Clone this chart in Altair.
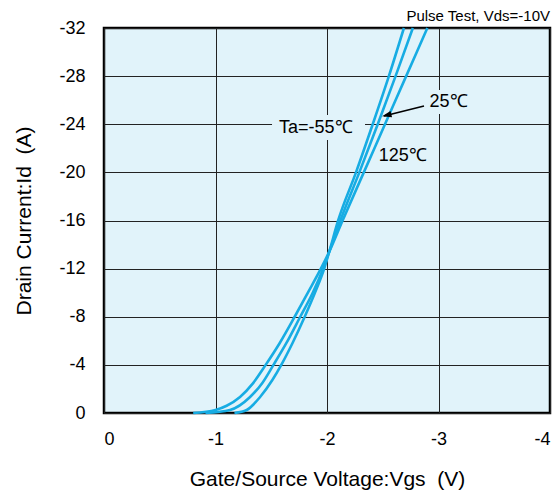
import altair as alt
import pandas as pd

# Transfer characteristics (Vgs in V, Id in A)
vgs_125 = [-0.80, -1.00, -1.10, -1.22, -1.33, -1.45, -1.575, -1.71, -1.825, -1.945, -2.02, -2.14, -2.33, -2.52, -2.71, -2.90]
id_125 = [0.0, -0.25, -0.6, -1.33, -2.4, -4.0, -5.8, -8.0, -9.95, -12.0, -13.4, -16.0, -20.0, -24.0, -28.0, -32.0]

vgs_25 = [-0.91, -1.13, -1.31, -1.42, -1.52, -1.635, -1.76, -1.87, -1.965, -2.02, -2.12, -2.29, -2.455, -2.615, -2.77]
id_25 = [0.0, -0.25, -1.33, -2.5, -4.0, -5.8, -8.0, -9.95, -12.0, -13.4, -16.0, -20.0, -24.0, -28.0, -32.0]

vgs_m55 = [-1.17, -1.28, -1.40, -1.51, -1.59, -1.69, -1.80, -1.89, -1.975, -2.02, -2.10, -2.26, -2.41, -2.555, -2.69]
id_m55 = [0.0, -0.25, -1.33, -2.74, -4.0, -5.8, -8.0, -9.95, -12.0, -13.4, -16.0, -20.0, -24.0, -28.0, -32.0]

x_ticks = [0, -1, -2, -3, -4]
y_ticks = [0, -4, -8, -12, -16, -20, -24, -28, -32]

# annotation labels
label_text = ["Ta=-55℃", "25℃", "125℃"]
label_x = [-1.90, -3.09, -2.68]
label_y = [-23.69, -25.85, -21.36]

# label background boxes (hide gridlines)
box_x = [-1.507, -2.906]
box_x2 = [-2.341, -3.283]
box_y = [-24.77, -26.85]
box_y2 = [-22.69, -24.85]

# arrow for 25℃
arrow_x = [-2.870]
arrow_y = [-25.52]
arrow_x2 = [-2.511]
arrow_y2 = [-24.69]
head_x = [-2.540]
head_y = [-24.76]

BG = "#E1F3FA"
LINE = "#17ACE3"
FONT = "Liberation Sans"

rows = []
for name, xs, ys in [("125", vgs_125, id_125), ("25", vgs_25, id_25), ("-55", vgs_m55, id_m55)]:
    for i, (a, b) in enumerate(zip(xs, ys)):
        rows.append({"series": name, "idx": i, "vgs": a, "id": b})
df = pd.DataFrame(rows)

xscale = alt.Scale(domain=[-4, 0], reverse=True, nice=False, zero=False)
yscale = alt.Scale(domain=[-32, 0], reverse=True, nice=False, zero=False)

xaxis = alt.Axis(
    values=x_ticks, labelExpr="'' + datum.value", ticks=False, domain=False,
    grid=True, gridColor="#222222", gridWidth=1, gridOpacity=1,
    labelFontSize=18, labelFont=FONT, labelColor="black", labelPadding=17,
    title="Gate/Source Voltage:Vgs \u00a0(V)", titleFont=FONT, titleFontSize=21,
    titleFontWeight="normal", titleColor="black", titlePadding=20,
)
yaxis = alt.Axis(
    values=y_ticks, labelExpr="'' + datum.value", ticks=False, domain=False,
    grid=True, gridColor="#222222", gridWidth=1, gridOpacity=1,
    labelFontSize=18, labelFont=FONT, labelColor="black", labelPadding=19,
    title="Drain Current:Id \u00a0(A)", titleFont=FONT, titleFontSize=21,
    titleFontWeight="normal", titleColor="black", titlePadding=24,
)

lines = alt.Chart(df).mark_line(strokeWidth=2.6, color=LINE, interpolate="monotone").encode(
    x=alt.X("vgs:Q", scale=xscale, axis=xaxis),
    y=alt.Y("id:Q", scale=yscale, axis=yaxis),
    detail="series:N",
    order="idx:Q",
)

boxes = alt.Chart(pd.DataFrame({"x": box_x, "x2": box_x2, "y": box_y, "y2": box_y2})).mark_rect(
    fill=BG
).encode(x=alt.X("x:Q", scale=xscale), x2="x2:Q", y=alt.Y("y:Q", scale=yscale), y2="y2:Q")

labels = alt.Chart(pd.DataFrame({"t": label_text, "x": label_x, "y": label_y})).mark_text(
    font=FONT, fontSize=18, color="black", align="center", baseline="middle"
).encode(x=alt.X("x:Q", scale=xscale), y=alt.Y("y:Q", scale=yscale), text="t:N")

arrow = alt.Chart(pd.DataFrame({"x": arrow_x, "y": arrow_y, "x2": arrow_x2, "y2": arrow_y2})).mark_rule(
    color="black", strokeWidth=1.5
).encode(x=alt.X("x:Q", scale=xscale), y=alt.Y("y:Q", scale=yscale), x2="x2:Q", y2="y2:Q")

head = alt.Chart(pd.DataFrame({"x": head_x, "y": head_y})).mark_point(
    shape="M0,-1L0.6,0.8L-0.6,0.8Z", size=110, filled=True, color="black", opacity=1, angle=256
).encode(x=alt.X("x:Q", scale=xscale), y=alt.Y("y:Q", scale=yscale))

note = alt.Chart(pd.DataFrame({"t": ["Pulse Test, Vds=-10V"]})).mark_text(
    font=FONT, fontSize=15, color="black", align="right", baseline="alphabetic"
).encode(x=alt.value(446), y=alt.value(-7), text="t:N")

chart = alt.layer(boxes, lines, arrow, head, labels, note).properties(
    width=446, height=385,
    autosize=alt.AutoSizeParams(type="none"),
    padding={"left": 96, "top": 20, "right": 2, "bottom": 78},
    background="white",
).configure_view(stroke="black", strokeWidth=2.5, fill=BG)

chart.save("out.html", embed_options={"renderer": "svg", "actions": False})
